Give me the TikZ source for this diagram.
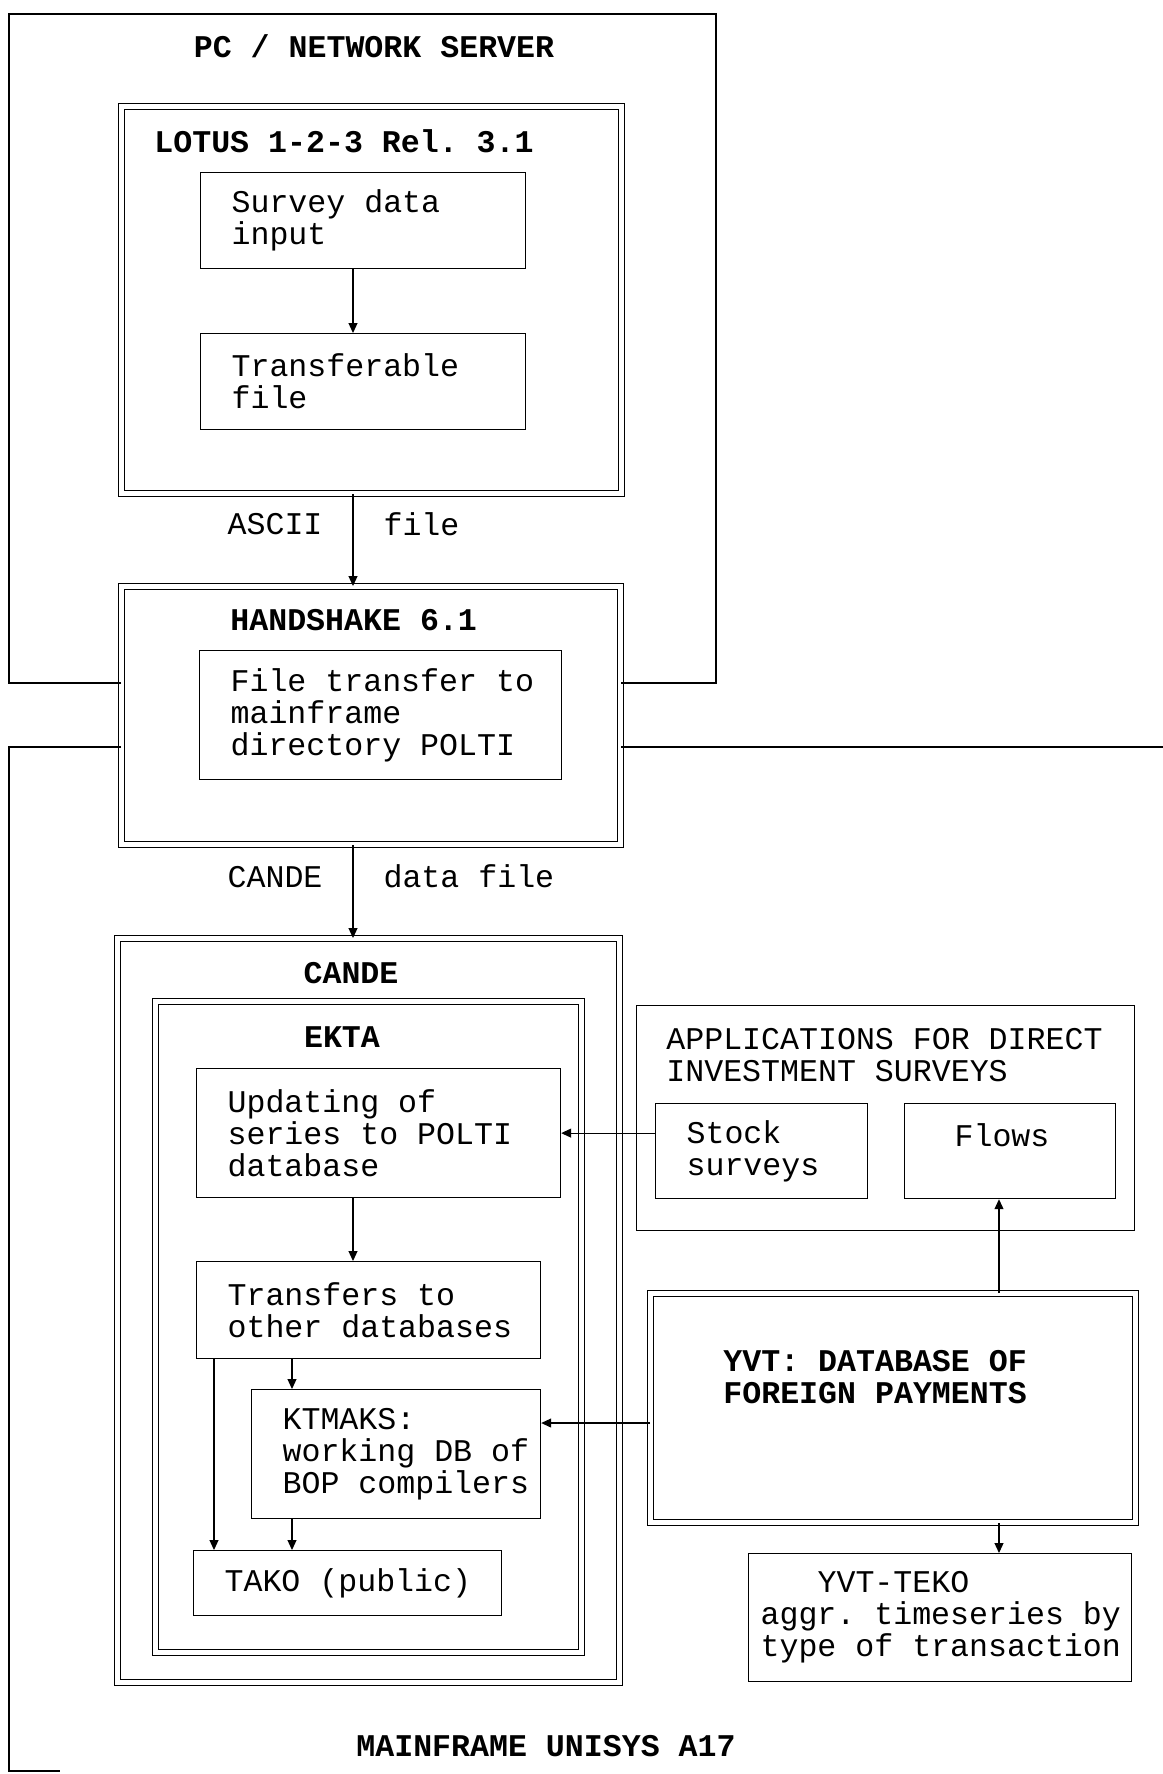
\documentclass[tikz,border=0pt]{standalone}
\usepackage{fontspec}
\setmainfont[WordSpace={1,0,0}]{Liberation Mono}
\usetikzlibrary{arrows.meta}
\frenchspacing
\hyphenpenalty=10000
\exhyphenpenalty=10000

\begin{document}
\begin{tikzpicture}[
    x=0.5pt, y=-0.5pt,
    every node/.style={font=\fontsize{15.8}{16}\selectfont},
    % Boxes: width and height given in pixels of the sheet
    box/.style 2 args={draw, line width=0.6pt, anchor=north west, align=flush left,
        inner xsep=15.5pt, inner ysep=0pt,
        minimum width=#1*0.5pt, minimum height=#2*0.5pt,
        text width=#1*0.5pt-31pt},
    % Double framed boxes for the programs
    dbox/.style 2 args={box={#1}{#2}, line width=0.5pt, double, double distance=2.2pt},
    title/.style={font=\fontsize{15.8}{16}\selectfont\bfseries, inner sep=0pt},
    plain/.style={inner sep=0pt},
    flow/.style={line width=0.55pt, -{Triangle[length=5pt, width=4.5pt]}},
    frame/.style={line width=0.6pt}
]
    \useasboundingbox (0,0) rectangle (1163,1774);

    % --- 1. Define Coordinates ---
    \coordinate (spine) at (353,0);
    \coordinate (ktmx) at (292,0);
    \coordinate (takox) at (214,0);
    \coordinate (yvtx) at (999,0);
    \coordinate (ktmrow) at (0,1423);

    \coordinate (pc sw) at (9,683);
    \coordinate (pc nw) at (9,14);
    \coordinate (pc ne) at (716,14);
    \coordinate (pc se) at (716,683);

    \coordinate (mf nw) at (9,747);
    \coordinate (mf sw) at (9,1771);
    \coordinate (mf stub) at (60,1771);
    \coordinate (mf ne) at (1163,747);

    % --- 2. PC / network server ---
    \node[title] (pc title) at (374,46) {PC / NETWORK SERVER};

    \node[dbox={500}{387}] (lotus) at (121,106) {};
    \node[title, anchor=west] (lotus title) at (154,141) {LOTUS 1-2-3 Rel. 3.1};
    \node[box={325}{96}] (survey) at (200,172) {Survey data\\input};
    \node[box={325}{96}] (transf) at (200,333) {Transferable\\file};

    \node[dbox={499}{258}] (hs) at (121,586) {};
    \node[title, anchor=west] (hs title) at (230,620) {HANDSHAKE 6.1};
    \node[box={362}{129}] (ftrans) at (199,650)
        {\mbox{File transfer to}\\mainframe\\\mbox{directory POLTI}};

    % --- 3. Mainframe ---
    \node[dbox={502}{744}] (cande) at (117,938) {};
    \node[title] (cande title) at (351,973) {CANDE};

    \node[dbox={426}{651}] (ekta) at (155,1001) {};
    \node[title] (ekta title) at (342,1037) {EKTA};
    \node[box={364}{129}] (upd) at (196,1068)
        {Updating of\\\mbox{series to POLTI}\\database};
    \node[box={344}{97}] (trans) at (196,1261) {Transfers to\\\mbox{other databases}};
    \node[box={289}{129}] (ktm) at (251,1389)
        {KTMAKS:\\\mbox{working DB of}\\\mbox{BOP compilers}};
    \node[box={308}{65}] (tako) at (193,1550) {\mbox{TAKO (public)}};

    \node[box={498}{225}] (appl) at (636,1005) {};
    \node[plain, anchor=west, align=left] (appl title) at (666,1055)
        {APPLICATIONS FOR DIRECT\\INVESTMENT SURVEYS};
    \node[box={212}{95}] (stock) at (655,1103) {Stock\\surveys};
    \node[box={211}{95}] (flows) at (904,1103) {\hspace*{9.5pt}Flows\\\mbox{}};

    \node[dbox={485}{229}] (yvt) at (650,1293) {};
    \node[title, anchor=west, align=left] (yvt title) at (723,1377)
        {YVT: DATABASE OF\\FOREIGN PAYMENTS};
    \node[box={383}{128}, inner xsep=6pt, text width=179.5pt] (teko) at (748,1553)
        {\hspace*{28.5pt}YVT-TEKO\\\mbox{aggr. timeseries by}\\\mbox{type of transaction}};

    \node[title] (mf title) at (546,1746) {MAINFRAME UNISYS A17};

    % --- 4. Outlines of the two machines ---
    \draw[frame] (hs.west |- pc sw) -- (pc sw) -- (pc nw) -- (pc ne) -- (pc se) -- (hs.east |- pc se);
    \draw[frame] (hs.west |- mf nw) -- (mf nw) -- (mf sw) -- (mf stub);
    \draw[frame] (hs.east |- mf ne) -- (mf ne);

    % --- 5. Data flows ---
    \draw[flow] (survey.south -| spine) -- (transf.north -| spine);
    \draw[flow] (lotus.south -| spine)
        -- node[plain, pos=0.33, left=15pt] {ASCII} node[plain, pos=0.33, right=15pt] {file}
        (hs.north -| spine);
    \draw[flow] (hs.south -| spine)
        -- node[plain, pos=0.34, left=15pt] {CANDE} node[plain, pos=0.34, right=15pt] {data file}
        (cande.north -| spine);

    \draw[flow] (upd.south -| spine) -- (trans.north -| spine);
    \draw[flow] (trans.south -| ktmx) -- (ktm.north -| ktmx);
    \draw[flow] (trans.south -| takox) -- (tako.north -| takox);
    \draw[flow] (ktm.south -| ktmx) -- (tako.north -| ktmx);

    \draw[flow] (stock.west |- upd.east) -- (upd.east);
    \draw[flow] (yvt.west |- ktmrow) -- (ktm.east |- ktmrow);
    \draw[flow] (yvt.north -| yvtx) -- (flows.south -| yvtx);
    \draw[flow] (yvt.south -| yvtx) -- (teko.north -| yvtx);

\end{tikzpicture}
\end{document}
